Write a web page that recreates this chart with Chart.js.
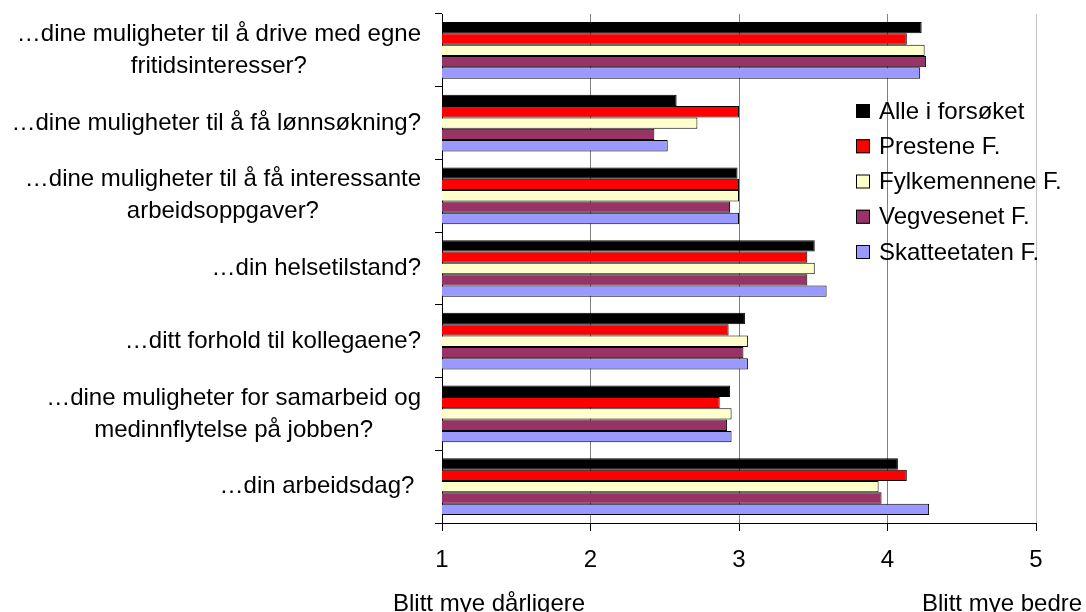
<!DOCTYPE html>
<html>
<head>
<meta charset="utf-8">
<script src="https://cdn.jsdelivr.net/npm/chart.js@4"></script>
<style>
  html, body { margin: 0; padding: 0; background: #ffffff; }
  #c { display: block; }
</style>
</head>
<body>
<canvas id="c" width="1086" height="612"></canvas>
<script>
// Questions (each entry is one label, split into its drawn lines)
const categories = [
  ["…dine muligheter til å drive med egne", "fritidsinteresser?"],
  ["…dine muligheter til å få lønnsøkning?"],
  ["…dine muligheter til å få interessante", "arbeidsoppgaver?"],
  ["…din helsetilstand?"],
  ["…ditt forhold til kollegaene?"],
  ["…dine muligheter for samarbeid og", "medinnflytelse på jobben?"],
  ["…din arbeidsdag? "]
];

const seriesNames = ["Alle i forsøket", "Prestene F.", "Fylkemennene F.", "Vegvesenet F.", "Skatteetaten F."];
const seriesColors = ["#000000", "#FF0000", "#FFFFCC", "#993366", "#9999FF"];

// Mean answers per group, scale 1 (much worse) to 5 (much better)
const alleIForsoket  = [4.23, 2.58, 2.99, 3.51, 3.04, 2.94, 4.07];
const prestene       = [4.13, 3.00, 3.00, 3.46, 2.93, 2.87, 4.13];
const fylkemennene   = [4.25, 2.72, 3.00, 3.51, 3.06, 2.95, 3.94];
const vegvesenet     = [4.26, 2.43, 2.94, 3.46, 3.03, 2.92, 3.96];
const skatteetaten   = [4.22, 2.52, 3.00, 3.59, 3.06, 2.95, 4.28];

const xTicks = [1, 2, 3, 4, 5];
const lowEndLabel = "Blitt mye dårligere";
const highEndLabel = "Blitt mye bedre";

const FONT = '"Liberation Sans", Arial, Helvetica, sans-serif';
const FONT_SIZE = 24;

const seriesValues = [alleIForsoket, prestene, fylkemennene, vegvesenet, skatteetaten];

// Category labels: each label is a centred block, right-aligned next to the axis
const labelPlugin = {
  id: 'questionLabels',
  afterDraw(chart) {
    const ctx = chart.ctx;
    const y = chart.scales.y;
    const right = chart.chartArea.left - 21;
    const lineH = 32;
    ctx.save();
    ctx.font = FONT_SIZE + 'px ' + FONT;
    ctx.fillStyle = '#000';
    ctx.textAlign = 'center';
    ctx.textBaseline = 'middle';
    categories.forEach((lines, i) => {
      const w = Math.max(...lines.map(l => ctx.measureText(l).width));
      const cx = right - w / 2;
      const cy = y.getPixelForTick(i);
      lines.forEach((line, j) => {
        ctx.fillText(line, cx, cy + (j - (lines.length - 1) / 2) * lineH);
      });
    });
    ctx.restore();
  }
};

// Legend drawn inside the plot area, upper right
const legendPlugin = {
  id: 'innerLegend',
  afterDraw(chart) {
    const ctx = chart.ctx;
    const boxX = 856, boxSize = 14, textX = 879, top = 111, step = 35.25;
    ctx.save();
    ctx.font = FONT_SIZE + 'px ' + FONT;
    ctx.textAlign = 'left';
    ctx.textBaseline = 'middle';
    chart.data.datasets.forEach((ds, i) => {
      const cy = top + i * step;
      ctx.fillStyle = ds.backgroundColor;
      ctx.fillRect(boxX, cy - boxSize / 2, boxSize, boxSize);
      ctx.strokeStyle = '#000';
      ctx.lineWidth = 1;
      ctx.strokeRect(boxX + 0.5, cy - boxSize / 2 + 0.5, boxSize - 1, boxSize - 1);
      ctx.fillStyle = '#000';
      ctx.fillText(ds.label, textX, cy + 1);
    });
    ctx.restore();
  }
};

// Captions for the two ends of the scale
const endCaptionPlugin = {
  id: 'endCaptions',
  afterDraw(chart) {
    const ctx = chart.ctx;
    const x = chart.scales.x;
    ctx.save();
    ctx.font = FONT_SIZE + 'px ' + FONT;
    ctx.fillStyle = '#000';
    ctx.textAlign = 'left';
    ctx.textBaseline = 'alphabetic';
    ctx.fillText(lowEndLabel, x.getPixelForValue(xTicks[0]) - 49, 611);
    ctx.fillText(highEndLabel, x.getPixelForValue(xTicks[xTicks.length - 1]) - 114, 611);
    ctx.restore();
  }
};

new Chart(document.getElementById('c'), {
  type: 'bar',
  data: {
    labels: categories.map(l => l.join(' ')),
    datasets: seriesNames.map((name, i) => ({
      label: name,
      data: seriesValues[i],
      backgroundColor: seriesColors[i],
      borderColor: '#000000',
      borderWidth: 1,
      categoryPercentage: 0.78,
      barPercentage: 1.0
    }))
  },
  options: {
    indexAxis: 'y',
    responsive: false,
    animation: false,
    devicePixelRatio: 1,
    layout: { padding: { top: 14, right: 50, left: 0, bottom: 0 } },
    plugins: {
      legend: { display: false },
      tooltip: { enabled: false }
    },
    scales: {
      x: {
        type: 'linear',
        min: 1,
        max: 5,
        afterBuildTicks(scale) { scale.ticks = xTicks.map(v => ({ value: v })); },
        ticks: {
          stepSize: 1,
          color: '#000',
          padding: 15,
          font: { family: FONT, size: FONT_SIZE }
        },
        grid: {
          color(ctx) {
            const v = ctx.tick ? ctx.tick.value : null;
            if (v === 1) return 'rgba(0,0,0,0)';
            if (v === 5) return '#C0C0C0';
            return '#808080';
          },
          tickColor: '#000000',
          tickLength: 8,
          lineWidth: 1
        },
        border: { color: '#000000', width: 1 },
        afterFit(scale) { scale.height = 89; }
      },
      y: {
        ticks: { display: false },
        grid: {
          drawOnChartArea: false,
          color: '#000000',
          tickColor: '#000000',
          tickLength: 7,
          offset: true
        },
        border: { color: '#000000', width: 1 },
        afterFit(scale) { scale.width = 442; }
      }
    }
  },
  plugins: [labelPlugin, legendPlugin, endCaptionPlugin]
});
</script>
</body>
</html>
